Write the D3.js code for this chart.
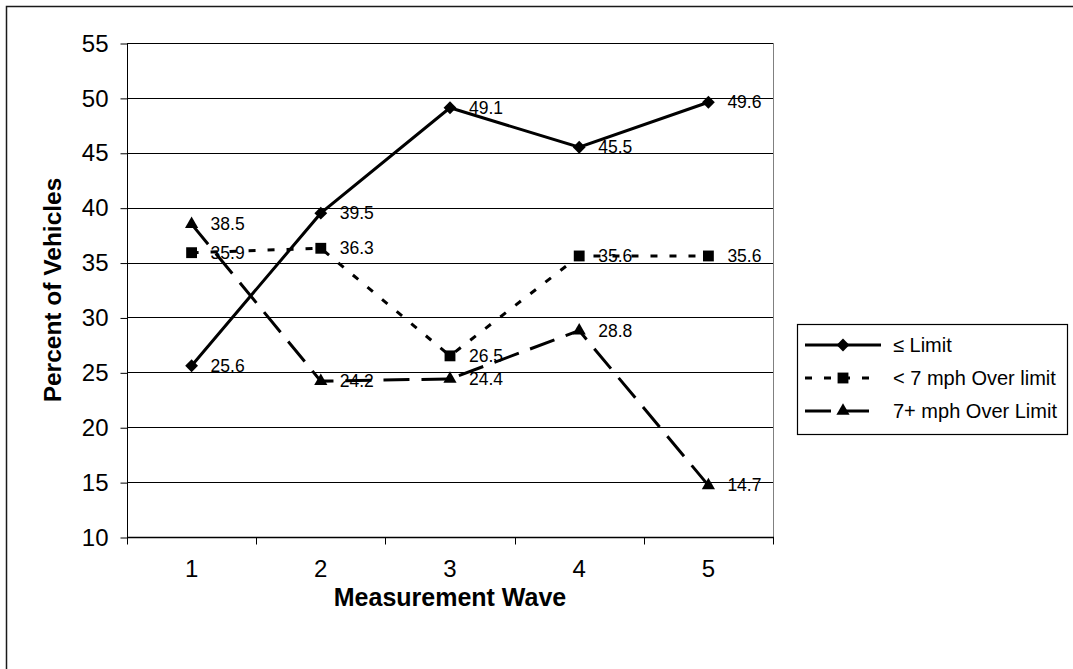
<!DOCTYPE html>
<html>
<head>
<meta charset="utf-8">
<script src="https://cdn.jsdelivr.net/npm/d3@7"></script>
<style>
  body { margin: 0; background: #fff; }
  svg { display: block; font-family: "Liberation Sans", Arial, sans-serif; }
</style>
</head>
<body>
<svg id="chart" width="1073" height="669"></svg>
<script>
// Measurement waves and the share of vehicles in each speed group
const waves = [1, 2, 3, 4, 5];
const seriesNames = ["\u2264 Limit", "< 7 mph Over limit", "7+ mph Over Limit"];
const atOrBelowLimit = [25.6, 39.5, 49.1, 45.5, 49.6];
const under7Over = [35.9, 36.3, 26.5, 35.6, 35.6];
const over7Plus = [38.5, 24.2, 24.4, 28.8, 14.7];
const yTicks = [10, 15, 20, 25, 30, 35, 40, 45, 50, 55];

const series = [
  { name: seriesNames[0], values: atOrBelowLimit, dash: null, marker: "diamond" },
  { name: seriesNames[1], values: under7Over, dash: "7,12", marker: "square" },
  { name: seriesNames[2], values: over7Plus, dash: "26,12", marker: "triangle" }
];

const svg = d3.select("#chart");
const W = 1073, H = 669;
const plot = { left: 127, right: 773, top: 43, bottom: 537 };

// outer frame
svg.append("rect")
  .attr("x", 6.5).attr("y", 6.5)
  .attr("width", W + 20).attr("height", H + 20)
  .attr("fill", "none").attr("stroke", "#1a1a1a").attr("stroke-width", 1.5);

const x = d3.scaleBand().domain(waves).range([plot.left, plot.right]);
const y = d3.scaleLinear().domain([10, 55]).range([plot.bottom, plot.top]);
const cx = d => x(d) + x.bandwidth() / 2;

// horizontal gridlines
svg.append("g").selectAll("line").data(yTicks).join("line")
  .attr("x1", plot.left).attr("x2", plot.right)
  .attr("y1", d => Math.round(y(d)) + 0.5).attr("y2", d => Math.round(y(d)) + 0.5)
  .attr("stroke", "#000").attr("stroke-width", 1);

// right edge of plot area
svg.append("line")
  .attr("x1", plot.right + 0.5).attr("x2", plot.right + 0.5)
  .attr("y1", plot.top).attr("y2", plot.bottom)
  .attr("stroke", "#808080").attr("stroke-width", 1);

// y axis
const yAxis = svg.append("g")
  .attr("transform", `translate(${plot.left + 0.5},0.5)`)
  .call(d3.axisLeft(y).tickValues(yTicks).tickSize(7).tickPadding(12).tickFormat(d3.format("d")));
yAxis.select(".domain").attr("stroke", "#000").attr("d", `M0,${plot.top}V${plot.bottom}`);
yAxis.selectAll(".tick line").attr("stroke", "#000");
yAxis.selectAll("text").attr("font-size", 24).attr("fill", "#000")
  .attr("font-family", "Liberation Sans, Arial, sans-serif");

// x axis: ticks at category boundaries, labels at centres
const xAxisG = svg.append("g").attr("transform", `translate(0,${plot.bottom + 0.5})`);
xAxisG.append("line").attr("x1", plot.left).attr("x2", plot.right + 1)
  .attr("stroke", "#000").attr("stroke-width", 1.5);
const bounds = waves.map(w => x(w)).concat([plot.right]);
xAxisG.selectAll("line.tk").data(bounds).join("line").attr("class", "tk")
  .attr("x1", d => Math.round(d) + 0.5).attr("x2", d => Math.round(d) + 0.5)
  .attr("y1", 0).attr("y2", 7).attr("stroke", "#000");
xAxisG.selectAll("text").data(waves).join("text")
  .attr("x", d => cx(d)).attr("y", 39)
  .attr("text-anchor", "middle").attr("font-size", 24).attr("fill", "#000")
  .text(d => d);

// axis titles
svg.append("text")
  .attr("x", (plot.left + plot.right) / 2).attr("y", 606)
  .attr("text-anchor", "middle").attr("font-size", 25).attr("font-weight", "bold")
  .text("Measurement Wave");
svg.append("text")
  .attr("transform", `translate(61,${(plot.top + plot.bottom) / 2}) rotate(-90)`)
  .attr("text-anchor", "middle").attr("font-size", 24.5).attr("font-weight", "bold")
  .text("Percent of Vehicles");

// marker shapes
const symbolFor = {
  diamond: d3.symbol().type(d3.symbolDiamond2).size(105),
  square: d3.symbol().type(d3.symbolSquare2).size(150),
  triangle: d3.symbol().type(d3.symbolTriangle2).size(125)
};

const line = d3.line().x((d, i) => cx(waves[i])).y(d => y(d));

series.forEach(s => {
  const g = svg.append("g");
  g.append("path").datum(s.values)
    .attr("d", line)
    .attr("fill", "none").attr("stroke", "#000").attr("stroke-width", 3)
    .attr("stroke-dasharray", s.dash);
  g.selectAll("path.mk").data(s.values).join("path").attr("class", "mk")
    .attr("transform", (d, i) => `translate(${cx(waves[i])},${y(d)})`)
    .attr("d", symbolFor[s.marker]).attr("fill", "#000");
  g.selectAll("text").data(s.values).join("text")
    .attr("x", (d, i) => cx(waves[i]) + 19).attr("y", d => y(d) + 6)
    .attr("font-size", 17.5).attr("fill", "#000")
    .text(d => d3.format(".1f")(d));
});

// legend
const legend = svg.append("g");
legend.append("rect")
  .attr("x", 797.5).attr("y", 324.5).attr("width", 270).attr("height", 110)
  .attr("fill", "#fff").attr("stroke", "#000").attr("stroke-width", 1.2);
series.forEach((s, i) => {
  const ly = 345 + i * 33;
  legend.append("line")
    .attr("x1", 805).attr("x2", 881).attr("y1", ly).attr("y2", ly)
    .attr("stroke", "#000").attr("stroke-width", 3)
    .attr("stroke-dasharray", s.dash);
  legend.append("path")
    .attr("transform", `translate(843,${ly})`)
    .attr("d", symbolFor[s.marker]).attr("fill", "#000");
  legend.append("text")
    .attr("x", 893).attr("y", ly + 7)
    .attr("font-size", 20).attr("fill", "#000")
    .text(s.name);
});
</script>
</body>
</html>
